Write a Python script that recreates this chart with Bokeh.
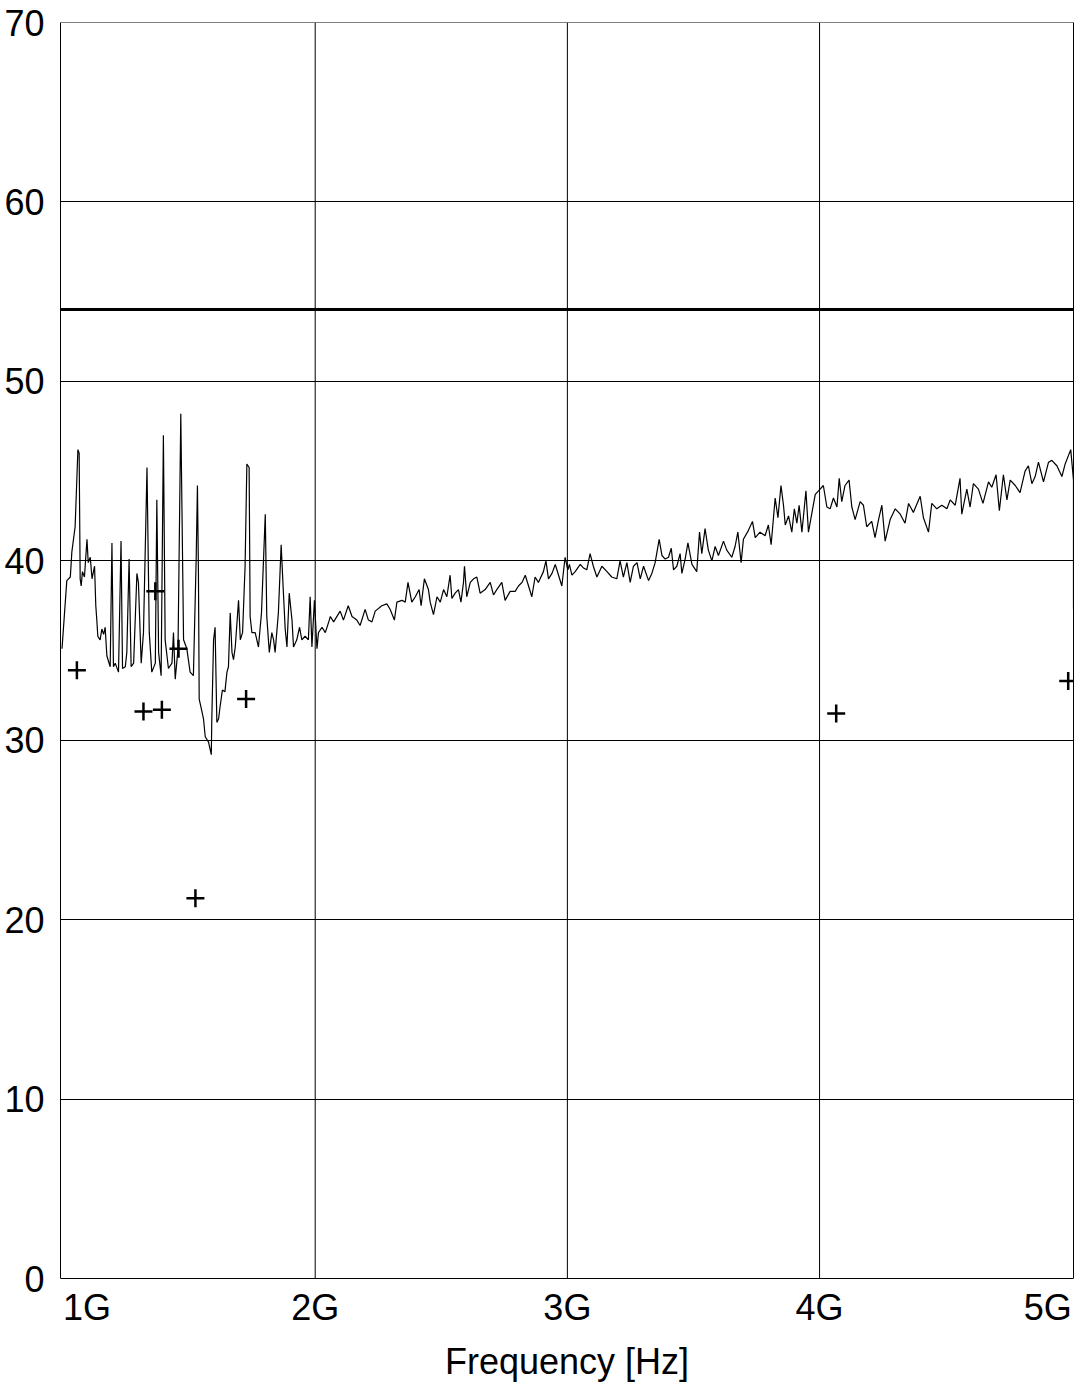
from bokeh.plotting import figure
from bokeh.models import Span, Label, FixedTicker, Range1d, LinearAxis
from bokeh.embed import file_html
from bokeh.resources import INLINE

# Measured spectrum trace: frequency [GHz] and level [dB]
freq_ghz = [
    0.996, 1.015, 1.029, 1.035, 1.048, 1.059, 1.064, 1.068, 1.072, 1.077,
    1.085, 1.095, 1.100, 1.108, 1.115, 1.125, 1.130, 1.134, 1.138, 1.147,
    1.154, 1.161, 1.167, 1.174, 1.187, 1.194, 1.200, 1.207, 1.220, 1.230,
    1.236, 1.247, 1.253, 1.262, 1.270, 1.280, 1.293, 1.299, 1.310, 1.319,
    1.333, 1.342, 1.352, 1.366, 1.372, 1.379, 1.389, 1.398, 1.405, 1.418,
    1.432, 1.438, 1.445, 1.456, 1.467, 1.478, 1.491, 1.504, 1.517, 1.528,
    1.533, 1.537, 1.540, 1.551, 1.557, 1.564, 1.577, 1.588, 1.590, 1.597,
    1.603, 1.610, 1.617, 1.623, 1.632, 1.642, 1.650, 1.656, 1.663, 1.670,
    1.676, 1.683, 1.696, 1.703, 1.712, 1.722, 1.729, 1.738, 1.742, 1.749,
    1.762, 1.775, 1.787, 1.802, 1.808, 1.818, 1.828, 1.835, 1.841, 1.854,
    1.865, 1.874, 1.881, 1.888, 1.897, 1.908, 1.914, 1.927, 1.938, 1.947,
    1.960, 1.973, 1.980, 1.987, 1.997, 2.007, 2.013, 2.027, 2.040, 2.056,
    2.060, 2.073, 2.099, 2.112, 2.131, 2.146, 2.165, 2.178, 2.198, 2.211,
    2.225, 2.238, 2.264, 2.284, 2.297, 2.314, 2.324, 2.344, 2.357, 2.368,
    2.383, 2.397, 2.412, 2.420, 2.433, 2.449, 2.456, 2.469, 2.483, 2.496,
    2.509, 2.522, 2.535, 2.542, 2.555, 2.568, 2.578, 2.588, 2.592, 2.601,
    2.615, 2.628, 2.641, 2.654, 2.674, 2.694, 2.707, 2.720, 2.740, 2.753,
    2.773, 2.793, 2.806, 2.820, 2.833, 2.846, 2.859, 2.872, 2.885, 2.905,
    2.915, 2.925, 2.939, 2.952, 2.965, 2.978, 2.991, 3.002, 3.008, 3.018,
    3.031, 3.051, 3.064, 3.077, 3.090, 3.103, 3.117, 3.137, 3.157, 3.176,
    3.196, 3.209, 3.222, 3.236, 3.249, 3.262, 3.276, 3.289, 3.302, 3.322,
    3.335, 3.348, 3.364, 3.375, 3.388, 3.401, 3.412, 3.421, 3.434, 3.447,
    3.454, 3.467, 3.478, 3.494, 3.513, 3.524, 3.533, 3.546, 3.559, 3.573,
    3.586, 3.599, 3.619, 3.632, 3.652, 3.665, 3.676, 3.689, 3.698, 3.718,
    3.734, 3.745, 3.764, 3.784, 3.797, 3.808, 3.824, 3.835, 3.847, 3.857,
    3.864, 3.877, 3.890, 3.900, 3.910, 3.919, 3.930, 3.946, 3.956, 3.970,
    3.983, 3.996, 4.015, 4.029, 4.042, 4.055, 4.069, 4.078, 4.088, 4.101,
    4.117, 4.128, 4.141, 4.161, 4.174, 4.187, 4.207, 4.220, 4.234, 4.247,
    4.260, 4.280, 4.300, 4.320, 4.339, 4.353, 4.372, 4.399, 4.412, 4.432,
    4.445, 4.465, 4.485, 4.505, 4.518, 4.538, 4.557, 4.564, 4.584, 4.597,
    4.610, 4.630, 4.648, 4.670, 4.683, 4.700, 4.713, 4.729, 4.743, 4.756,
    4.776, 4.795, 4.815, 4.828, 4.842, 4.855, 4.868, 4.888, 4.908, 4.921,
    4.941, 4.961, 4.974, 4.996, 5.007, 5.007,
]
level_db = [
    35.1, 38.9, 39.1, 40.5, 41.9, 46.2, 46.0, 39.0, 38.6, 39.4,
    39.1, 41.2, 39.9, 40.2, 39.0, 39.7, 37.5, 36.7, 35.8, 35.6,
    36.2, 35.9, 36.3, 34.7, 34.1, 41.0, 34.1, 34.3, 33.8, 41.1,
    34.0, 34.1, 34.9, 40.1, 34.1, 34.3, 39.3, 38.8, 34.3, 36.0,
    45.2, 36.0, 33.8, 34.3, 43.4, 34.9, 33.6, 47.0, 35.6, 34.0,
    34.3, 36.0, 33.4, 35.1, 48.2, 35.6, 35.1, 33.8, 33.6, 40.1,
    44.2, 39.3, 32.3, 31.6, 31.2, 30.2, 29.9, 29.2, 31.2, 35.6,
    36.3, 31.0, 31.2, 31.9, 32.8, 32.7, 33.8, 34.1, 37.1, 34.9,
    34.5, 35.2, 37.8, 35.6, 36.0, 39.7, 45.4, 45.2, 36.9, 36.0,
    36.0, 35.2, 37.1, 42.6, 36.9, 34.9, 36.0, 35.6, 34.9, 37.1,
    40.9, 38.2, 36.2, 35.2, 38.2, 36.7, 35.2, 35.6, 36.3, 35.6,
    35.8, 35.6, 38.0, 35.2, 37.8, 35.1, 36.0, 36.3, 36.0, 36.7,
    36.9, 36.6, 37.2, 36.7, 37.5, 36.9, 36.7, 36.4, 37.3, 36.7,
    36.6, 37.2, 37.5, 37.6, 37.3, 36.7, 37.7, 37.8, 37.7, 38.8,
    37.7, 38.0, 38.4, 37.5, 39.0, 38.4, 37.7, 37.0, 38.0, 37.7,
    38.4, 38.0, 39.2, 37.9, 38.2, 38.4, 37.7, 38.8, 39.7, 38.0,
    38.8, 39.0, 39.1, 38.2, 38.4, 38.8, 38.1, 38.4, 38.8, 37.8,
    38.3, 38.3, 38.6, 38.8, 39.2, 38.6, 38.0, 39.1, 38.8, 39.4,
    40.0, 39.0, 39.3, 39.8, 39.2, 38.6, 40.2, 39.5, 39.8, 39.2,
    39.4, 39.8, 39.6, 39.5, 40.4, 39.7, 39.1, 39.7, 39.4, 39.1,
    39.0, 40.0, 39.1, 39.9, 38.8, 39.7, 39.9, 39.0, 39.7, 38.9,
    39.3, 39.9, 41.2, 40.3, 40.1, 40.2, 40.7, 39.5, 39.7, 40.4,
    39.3, 40.1, 41.0, 39.8, 39.4, 41.6, 40.4, 41.8, 40.6, 40.0,
    40.8, 40.3, 41.1, 40.6, 40.2, 40.8, 41.6, 39.9, 41.2, 41.7,
    42.2, 41.3, 41.6, 41.4, 42.0, 40.9, 43.5, 42.4, 44.2, 43.1,
    42.0, 42.5, 41.6, 42.9, 42.1, 43.1, 41.6, 43.9, 41.6, 42.7,
    43.7, 43.9, 44.2, 43.0, 42.9, 43.5, 43.0, 44.6, 43.3, 44.2,
    44.5, 43.0, 42.3, 43.3, 43.1, 41.9, 42.2, 41.3, 42.3, 43.1,
    41.1, 42.3, 42.9, 42.6, 42.1, 43.2, 42.7, 43.6, 42.4, 41.6,
    43.2, 42.9, 43.1, 42.9, 43.4, 43.1, 44.6, 42.6, 44.0, 43.0,
    44.3, 44.0, 43.2, 44.4, 44.1, 44.8, 42.8, 44.8, 43.4, 44.5,
    44.2, 43.8, 45.0, 45.3, 44.3, 44.7, 45.5, 44.4, 45.5, 45.6,
    45.3, 44.7, 45.4, 46.2, 44.5, 37.3,
]

# Individually measured points (+ markers)
meas_freq_ghz = [1.055, 1.319, 1.392, 1.366, 1.458, 1.525, 1.726, 4.066, 4.986]
meas_level_db = [33.9, 31.6, 31.7, 38.3, 35.1, 21.2, 32.3, 31.5, 33.3]

# Limit line
limit_db = 54

x_grid_ticks = [2, 3, 4]
x_tick_labels = [(1, "1G", "left"), (2, "2G", "center"), (3, "3G", "center"),
                 (4, "4G", "center"), (5, "5G", "right")]
y_ticks = [0, 10, 20, 30, 40, 50, 60, 70]
y_min, y_max = 0, 70

FONT = "Liberation Sans"
FS = "36px"

p = figure(width=1078, height=1384, output_backend="svg", toolbar_location=None,
           x_range=Range1d(0.990, 5.007), y_range=Range1d(-3.0, 70),
           min_border_left=60, min_border_right=5, min_border_top=22,
           min_border_bottom=50)
p.background_fill_color = "white"
p.border_fill_color = "white"
p.outline_line_color = None
p.xgrid.visible = False

# x axis: only carries the axis title; tick labels are placed under the box
xa = p.xaxis[0]
xa.ticker = FixedTicker(ticks=[])
xa.axis_line_color = None
xa.major_tick_line_color = None
xa.minor_tick_line_color = None
xa.major_label_standoff = 0
xa.axis_label = "Frequency [Hz]"
xa.axis_label_text_font = FONT
xa.axis_label_text_font_size = FS
xa.axis_label_text_font_style = "normal"
xa.axis_label_text_color = "black"
xa.axis_label_standoff = 8

ya = p.yaxis[0]
ya.ticker = FixedTicker(ticks=y_ticks)
ya.bounds = (y_min, y_max)
ya.axis_line_color = "black"
ya.major_tick_line_color = None
ya.minor_tick_line_color = None
ya.major_label_text_font = FONT
ya.major_label_text_font_size = FS
ya.major_label_text_color = "black"
ya.major_label_standoff = 10

ra = LinearAxis(ticker=FixedTicker(ticks=[]), bounds=(y_min, y_max),
                axis_line_color="black", major_tick_line_color=None,
                minor_tick_line_color=None, major_label_standoff=0,
                major_label_text_font_size="0px")
p.add_layout(ra, "right")

p.ygrid.ticker = FixedTicker(ticks=y_ticks)
p.ygrid.grid_line_color = "black"
p.ygrid.grid_line_width = 1
p.ygrid.grid_line_alpha = 1.0

# vertical grid lines, limited to the 0..70 box
p.segment(x0=x_grid_ticks, y0=[y_min] * len(x_grid_ticks),
          x1=x_grid_ticks, y1=[y_max] * len(x_grid_ticks),
          line_color="black", line_width=1)

p.add_layout(Span(location=y_max, dimension="width", line_color="black", line_width=1))
p.add_layout(Span(location=limit_db, dimension="width", line_color="black", line_width=3))

p.line(freq_ghz, level_db, line_color="black", line_width=1.2)
p.scatter(meas_freq_ghz, meas_level_db, marker="cross", size=18,
          line_color="black", line_width=2.5)

for xv, txt, align in x_tick_labels:
    p.add_layout(Label(x=xv, y=y_min, text=txt, text_align=align, text_baseline="top",
                       y_offset=-8, text_font=FONT, text_font_size=FS,
                       text_color="black"))

open("out.html", "w").write(file_html(p, INLINE))
